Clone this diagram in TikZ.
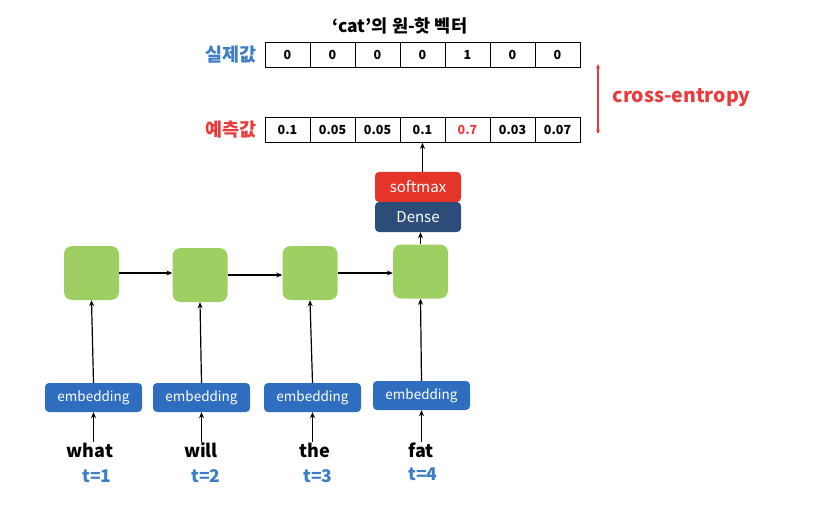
\documentclass[tikz,border=0pt]{standalone}
\usepackage{fontspec}
\setmainfont{Noto Sans CJK KR}
\usetikzlibrary{arrows.meta}
\definecolor{rnngreen}{HTML}{9FCF62}
\definecolor{embblue}{HTML}{2F6EBE}
\definecolor{densebl}{HTML}{2C4D7A}
\definecolor{softred}{HTML}{E5352B}
\definecolor{lblblue}{HTML}{3C7DC6}
\definecolor{lblred}{HTML}{E83C3C}
\begin{document}
\begin{tikzpicture}[x=1pt,y=-1pt,
  rnn/.style={fill=rnngreen,rounded corners=8pt,minimum width=55pt,minimum height=54pt,inner sep=0pt},
  emb/.style={fill=embblue,rounded corners=4pt,minimum width=97pt,minimum height=29pt,inner sep=0pt,text=white,font=\fontsize{13.5}{15}\selectfont},
  word/.style={font=\fontsize{18}{20}\selectfont\bfseries},
  tlab/.style={font=\fontsize{17.5}{19}\selectfont\bfseries,text=lblblue},
  cell/.style={draw=black,line width=0.8pt,minimum width=45pt,minimum height=25pt,inner sep=0pt,font=\fontsize{12.5}{14}\selectfont\bfseries},
  arr/.style={-{Stealth[length=6pt,width=5pt]},line width=1.2pt},
  dense/.style={rounded corners=4pt,minimum width=86pt,minimum height=30pt,inner sep=0pt,text=white,font=\fontsize{15}{17}\selectfont}
]
\useasboundingbox (0,0) rectangle (827,505);
% RNN cells
\node[rnn] (h1) at (91.5,273) {};
\node[rnn] (h2) at (200,275) {};
\node[rnn] (h3) at (310,273) {};
\node[rnn] (h4) at (420.5,271.5) {};
% embeddings
\node[emb] (e1) at (93.5,397.5) {embedding};
\node[emb] (e2) at (201.5,397.5) {embedding};
\node[emb] (e3) at (312.5,397.5) {embedding};
\node[emb] (e4) at (421.5,395.5) {embedding};
% words
\node[word] (w1) at (90,450) {what};
\node[word] (w2) at (201,450) {will};
\node[word] (w3) at (315,450) {the};
\node[word] (w4) at (421,450) {fat};
\node[tlab] (t1) at (97,476) {t=1};
\node[tlab] (t2) at (206,476) {t=2};
\node[tlab] (t3) at (318,476) {t=3};
\node[tlab] (t4) at (423,474) {t=4};
% arrows words -> embeddings -> cells
\foreach \i in {1,2,3,4} {
  \draw[arr] ([yshift=-3pt]w\i.north -| e\i.south) -- (e\i.south);
  \draw[arr] (e\i.north) -- (h\i.south);
}
\draw[arr] (h1.east) -- (h2.west |- h1.east);
\draw[arr] (h2.east) -- (h3.west |- h2.east);
\draw[arr] (h3.east) -- (h4.west |- h3.east);
% dense & softmax
\node[dense,fill=densebl] (dn) at (418,217) {Dense};
\node[dense,fill=softred] (sm) at (418,187) {softmax};
\draw[arr] (h4.north) -- (dn.south -| h4.north);
% table
\foreach \v [count=\k] in {0,0,0,0,1,0,0} {
  \node[cell] (a\k) at ({265+22.5+45*(\k-1)},55) {\v};
}
\foreach \v [count=\k] in {0.1,0.05,0.05,0.1,{\textcolor{lblred}{0.7}},0.03,0.07} {
  \node[cell] (p\k) at ({265+22.5+45*(\k-1)},130) {\v};
}
\draw[arr] (sm.north -| p4.south) -- (p4.south);
\node[font=\fontsize{17.5}{19}\selectfont\bfseries] (title) at (400,26) {‘cat’의 원-핫 벡터};
\node[font=\fontsize{18.5}{20}\selectfont\bfseries,text=lblblue,anchor=east] (l1) at (260,55) {실제값};
\node[font=\fontsize{18.5}{20}\selectfont\bfseries,text=lblred,anchor=east] (l2) at (260,130) {예측값};
\coordinate (ct) at (598,64);
\coordinate (cb) at (598,134);
\draw[{Stealth[length=4.5pt,width=4pt]}-{Stealth[length=4.5pt,width=4pt]},line width=1.1pt,draw=lblred] (ct) -- (cb);
\node[font=\fontsize{19.5}{21}\selectfont\bfseries,text=lblred,anchor=west] (ce) at (609,98) {cross-entropy};
\end{tikzpicture}
\end{document}
